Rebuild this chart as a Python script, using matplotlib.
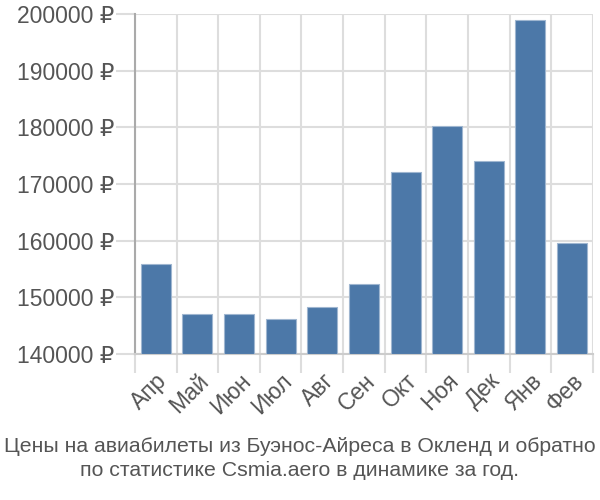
import matplotlib
matplotlib.use("Agg")
import matplotlib.pyplot as plt
import numpy as np

plt.rcParams['font.family'] = ['Liberation Sans', 'DejaVu Sans']

months = ["Апр", "Май", "Июн", "Июл", "Авг", "Сен", "Окт", "Ноя", "Дек", "Янв", "Фев"]
prices = [155800, 147000, 147000, 146200, 148350, 152300, 172100, 180200, 174000, 198900, 159600]
yticks = [140000, 150000, 160000, 170000, 180000, 190000, 200000]
title = "Цены на авиабилеты из Буэнос-Айреса в Окленд и обратно\nпо статистике Csmia.aero в динамике за год."

fig = plt.figure(figsize=(6, 5), dpi=100)
ax = fig.add_axes([0.225, 0.292, 0.763, 0.68])

x = np.arange(len(months))
ax.bar(x, [p - 140000 for p in prices], bottom=140000, width=0.72,
       color="#4c78a8", edgecolor="#9fb6d0", linewidth=0.8, zorder=3)

ax.set_xlim(-0.5, len(months) - 0.5)
ax.set_ylim(140000, 200000)
ax.set_yticks(yticks)
ax.set_yticklabels([f"{v} ₽" for v in yticks])

ax.set_xticks(x)
ax.set_xticklabels(months, rotation=45, ha="right", rotation_mode="anchor")
ax.set_xticks(np.arange(-0.5, len(months)), minor=True)

ax.tick_params(axis="x", which="major", length=0, pad=11, labelsize=16.5, labelcolor="#555555")
ax.tick_params(axis="x", which="minor", length=14, color="#dddddd", width=1.5)
ax.tick_params(axis="y", length=14, color="#dddddd", width=1.5, pad=1, labelsize=16.5, labelcolor="#555555")

ax.grid(True, axis="y", color="#dddddd", linewidth=1.5, zorder=0)
ax.grid(True, axis="x", which="minor", color="#dddddd", linewidth=1.5, zorder=0)
ax.grid(False, axis="x", which="major")

for s in ["top", "right"]:
    ax.spines[s].set_visible(False)
ax.spines["left"].set_color("#aaaaaa")
ax.spines["left"].set_linewidth(1.5)
ax.spines["bottom"].set_color("#cccccc")
ax.spines["bottom"].set_linewidth(1.5)

fig.text(0.5, 0.04, title, ha="center", va="bottom", fontsize=15.3, color="#555555", linespacing=1.3)

fig.savefig("out.png", dpi=100)
